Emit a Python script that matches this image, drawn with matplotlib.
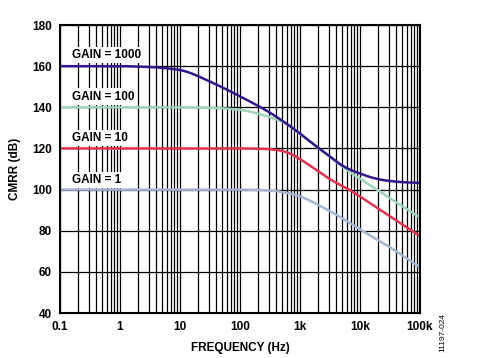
import numpy as np
import matplotlib
matplotlib.use("Agg")
import matplotlib.pyplot as plt
from matplotlib.ticker import LogLocator, NullFormatter, FixedLocator

freq_g1000 = [0.1, 1, 3, 10, 30, 100, 300, 1000, 2000, 3000, 5000, 10000, 20000, 50000, 100000]
cmrr_g1000 = [160, 160, 159.6, 158.2, 152.8, 145.3, 137.8, 127.3, 120.3, 116.8, 111.5, 107.8, 105.0, 103.6, 103.2]

freq_g100 = [0.1, 1, 10, 30, 100, 300, 600, 1000, 2000, 3000, 5000, 10000, 30000, 100000]
cmrr_g100 = [140, 140, 140, 139.8, 138.8, 135.4, 132.0, 127.0, 120.2, 116.6, 111.0, 105.4, 96.2, 86.4]

freq_g10 = [0.1, 1, 10, 100, 300, 600, 1000, 2000, 3000, 7000, 10000, 30000, 100000]
cmrr_g10 = [120, 120, 120, 120, 119.7, 118.4, 114.8, 109.0, 105.3, 99.6, 96.6, 87.4, 77.4]

freq_g1 = [0.1, 1, 10, 100, 300, 600, 1000, 2000, 3000, 5000, 10000, 30000, 100000]
cmrr_g1 = [100, 100, 100, 100, 99.6, 98.5, 96.8, 92.6, 89.9, 86.2, 80.6, 72.4, 62.2]

gain_labels = ["GAIN = 1000", "GAIN = 100", "GAIN = 10", "GAIN = 1"]
colors = ["#33178A", "#9DD4B8", "#E1324E", "#A3B5D3"]
xtick_vals = [0.1, 1, 10, 100, 1000, 10000, 100000]
xtick_labels = ["0.1", "1", "10", "100", "1k", "10k", "100k"]
ytick_vals = [40, 60, 80, 100, 120, 140, 160, 180]

plt.rcParams['font.family'] = ['Liberation Sans', 'DejaVu Sans']

fig = plt.figure(figsize=(4.89, 3.58), dpi=100)
ax = fig.add_axes([60/489, 1-313/358, 360/489, 288/358])


def pchip(x, y, xs):
    x = np.asarray(x, float); y = np.asarray(y, float)
    h = np.diff(x); d = np.diff(y) / h
    m = np.zeros_like(y)
    for k in range(1, len(y)-1):
        if d[k-1]*d[k] <= 0:
            m[k] = 0
        else:
            w1 = 2*h[k] + h[k-1]; w2 = h[k] + 2*h[k-1]
            m[k] = (w1 + w2) / (w1/d[k-1] + w2/d[k])
    m[0] = d[0]; m[-1] = d[-1]
    out = np.empty_like(xs)
    for i, xv in enumerate(xs):
        k = int(np.clip(np.searchsorted(x, xv) - 1, 0, len(x)-2))
        t = (xv - x[k]) / h[k]
        h00 = 2*t**3 - 3*t**2 + 1; h10 = t**3 - 2*t**2 + t
        h01 = -2*t**3 + 3*t**2; h11 = t**3 - t**2
        out[i] = h00*y[k] + h10*h[k]*m[k] + h01*y[k+1] + h11*h[k]*m[k+1]
    return out


def smooth(x, y):
    lx = np.log10(x)
    xs = np.linspace(lx[0], lx[-1], 600)
    ys = pchip(lx, y, xs)
    # light smoothing to remove kinks
    k = 15
    pad = np.concatenate([np.full(k, ys[0]), ys, np.full(k, ys[-1])])
    ker = np.ones(2*k+1) / (2*k+1)
    ys2 = np.convolve(pad, ker, mode='same')[k:-k]
    ys2[:k] = ys[:k]; ys2[-k:] = ys[-k:]
    return 10**xs, ys2


series = [(freq_g1000, cmrr_g1000), (freq_g100, cmrr_g100),
          (freq_g10, cmrr_g10), (freq_g1, cmrr_g1)]
for (fx, s), c in reversed(list(zip(series, colors))):
    xs, ys = smooth(fx, s)
    ax.plot(xs, ys, color=c, lw=1.8, zorder=3, solid_capstyle='butt')

ax.set_xscale('log')
ax.set_xlim(0.1, 100000)
ax.set_ylim(40, 180)
ax.xaxis.set_major_locator(FixedLocator(xtick_vals))
ax.set_xticklabels(xtick_labels)
ax.xaxis.set_minor_locator(LogLocator(base=10, subs=np.arange(2, 10)))
ax.xaxis.set_minor_formatter(NullFormatter())
ax.set_yticks(ytick_vals)
ax.grid(True, which='major', color='black', lw=0.9)
ax.grid(True, which='minor', axis='x', color='black', lw=0.9)
ax.tick_params(which='both', length=0, pad=6)
for lab in ax.get_xticklabels() + ax.get_yticklabels():
    lab.set_fontweight('bold')
    lab.set_fontsize(8.5)
for sp in ax.spines.values():
    sp.set_linewidth(1.5)
    sp.set_zorder(5)

ax.set_xlabel("FREQUENCY (Hz)", fontsize=8.5, fontweight='bold', labelpad=6)
ax.set_ylabel("CMRR (dB)", fontsize=8.5, fontweight='bold', labelpad=8)

label_y = [165.3, 145.2, 125.2, 104.8]
for t, yv in zip(gain_labels, label_y):
    ax.text(0.158, yv, t, fontsize=8.5, fontweight='bold', va='center', ha='left', zorder=4,
            bbox=dict(facecolor='white', edgecolor='none', pad=1.5))

fig.text(443/489, 1-332/358, "11197-024", rotation=90, fontsize=6, ha='center', va='center')

fig.savefig("out.png", dpi=100)
